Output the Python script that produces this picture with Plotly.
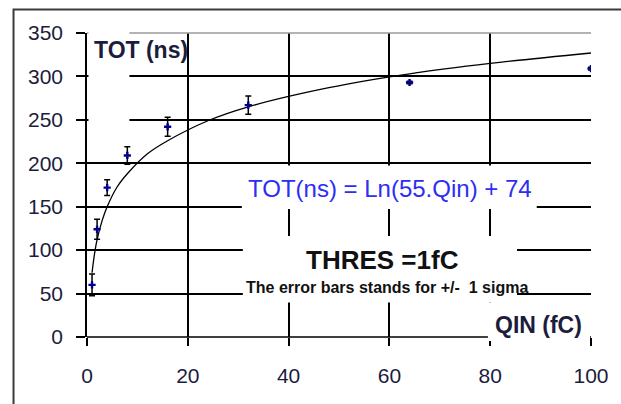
import plotly.graph_objects as go

# ---- data ----
qin = [1, 2, 4, 8, 16, 32, 64, 100]
tot = [60, 124, 172, 209, 242, 267, 293, 309]
sigma = [12.5, 11.5, 9, 10, 11, 10.5, 1.5, 1.5]

# fitted trend curve
trend_q = [1, 1.5, 2, 3, 4, 6, 8, 12, 16, 24, 32, 48, 64, 80, 100]
trend_v = [74, 96, 112, 134, 150, 173, 188, 211, 226, 249, 265, 287, 303, 315, 327]

x_ticks = [0, 20, 40, 60, 80, 100]
y_ticks = [0, 50, 100, 150, 200, 250, 300, 350]

W, H = 621, 404
L, R, T, B = 87, 23, 33, 67
PW, PH = W - L - R, H - T - B


def px(x):
    return (x - L) / PW


def py(y):
    return (H - B - y) / PH


FONT = "Liberation Sans, Arial, sans-serif"
fig = go.Figure()

fig.add_trace(go.Scatter(
    x=trend_q, y=trend_v, mode="lines", line=dict(color="black", width=1.3, shape="spline"),
    hoverinfo="skip", showlegend=False))

fig.add_trace(go.Scatter(
    x=qin, y=tot, mode="markers",
    marker=dict(symbol="cross", size=6, color="#00008b"),
    error_y=dict(type="data", array=sigma, visible=True, color="black", thickness=1.5, width=3),
    showlegend=False))

shapes = []
# plot-area top border (grey) and bottom axis line
shapes.append(dict(type="line", xref="paper", yref="paper", x0=0, x1=1, y0=1, y1=1,
                   line=dict(color="#9a9a9a", width=1.5), layer="above"))
shapes.append(dict(type="line", xref="paper", yref="paper", x0=0, x1=1, y0=0, y1=0,
                   line=dict(color="black", width=1.5), layer="above"))
# white boxes behind labels (they hide the grid lines there)
for (x0, x1, y0, y1) in [(88.5, 130, 31, 129), (244, 543, 165.5, 209),
                         (245, 523, 236, 302.5), (493.5, 597, 302.5, 341)]:
    shapes.append(dict(type="rect", xref="paper", yref="paper", x0=px(x0), x1=px(x1),
                       y0=py(y1), y1=py(y0), fillcolor="white", line=dict(width=0),
                       layer="above"))
# outer chart border
shapes.append(dict(type="rect", xref="paper", yref="paper", x0=px(12.5), x1=px(630),
                   y0=py(415), y1=py(9.5), line=dict(color="#3a3a3a", width=2),
                   fillcolor="rgba(0,0,0,0)", layer="above"))

annotations = [
    dict(text="<b>TOT (ns)</b>", x=px(92), y=py(50), xanchor="left", yanchor="middle",
         font=dict(family=FONT, size=23, color="#1c1c3c")),
    dict(text="<b>QIN (fC)</b>", x=px(499), y=py(325), xanchor="left", yanchor="middle",
         font=dict(family=FONT, size=23, color="#1c1c3c")),
    dict(text="TOT(ns) = Ln(55.Qin) + 74", x=px(248), y=py(188), xanchor="left", yanchor="middle",
         font=dict(family=FONT, size=24, color="#2d2df5")),
    dict(text="<b>THRES =1fC</b>", x=px(386.5), y=py(260), xanchor="center", yanchor="middle",
         font=dict(family=FONT, size=26, color="#111111")),
    dict(text="<b>The error bars stands for +/-  1 sigma</b>", x=px(391), y=py(287), xanchor="center",
         yanchor="middle", font=dict(family=FONT, size=16, color="#111111")),
]
for a in annotations:
    a.update(xref="paper", yref="paper", showarrow=False)

fig.update_layout(
    width=W, height=H, margin=dict(l=L, r=R, t=T, b=B),
    paper_bgcolor="white", plot_bgcolor="white",
    shapes=shapes, annotations=annotations,
    xaxis=dict(range=[0, 100], tickvals=x_ticks, ticktext=[str(v) for v in x_ticks],
               showgrid=True, gridcolor="black", gridwidth=1.5, zeroline=False,
               showline=False, ticks="outside", ticklen=8, tickwidth=1.5, tickcolor="black",
               tickfont=dict(family=FONT, size=21, color="#1c1c3c"), ticklabelstandoff=12),
    yaxis=dict(range=[0, 350], tickvals=y_ticks, ticktext=[str(v) for v in y_ticks],
               showgrid=True, gridcolor="black", gridwidth=1.5, zeroline=False,
               showline=True, linecolor="black", linewidth=1.5,
               ticks="outside", ticklen=9, tickwidth=1.5, tickcolor="black",
               tickfont=dict(family=FONT, size=21, color="#1c1c3c"), ticklabelstandoff=9),
)

fig.write_html("out.html")
